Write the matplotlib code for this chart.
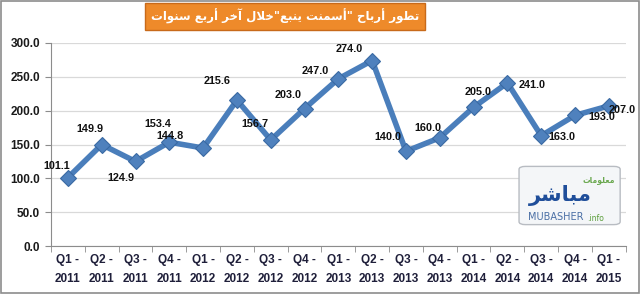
import matplotlib
matplotlib.use("Agg")
import matplotlib.pyplot as plt
from matplotlib.patches import FancyBboxPatch

# data
quarters = ["Q1 -\n2011", "Q2 -\n2011", "Q3 -\n2011", "Q4 -\n2011",
            "Q1 -\n2012", "Q2 -\n2012", "Q3 -\n2012", "Q4 -\n2012",
            "Q1 -\n2013", "Q2 -\n2013", "Q3 -\n2013", "Q4 -\n2013",
            "Q1 -\n2014", "Q2 -\n2014", "Q3 -\n2014", "Q4 -\n2014",
            "Q1 -\n2015"]
profits = [101.1, 149.9, 124.9, 153.4, 144.8, 215.6, 156.7, 203.0,
           247.0, 274.0, 140.0, 160.0, 205.0, 241.0, 163.0, 193.0, 207.0]
y_ticks = [0, 50, 100, 150, 200, 250, 300]
title = 'تطور أرباح "أسمنت ينبع"خلال آخر أربع سنوات'

# label offsets in pixels (where Excel put them)
label_off = [(-11, 12), (-12, 16), (-15, -17), (-11, 18), (-33, 12), (-20, 19),
             (-16, 16), (-16, 14), (-23, 8), (-23, 12), (-18, 14), (-12, 10),
             (5, 15), (25, -2), (21, -1), (27, -2), (13, -4)]


# tiny arabic shaper: presentation forms + reverse for display
FORMS = {
    'ا': (0xFE8D, 0xFE8E, None, None), 'أ': (0xFE83, 0xFE84, None, None),
    'آ': (0xFE81, 0xFE82, None, None), 'ر': (0xFEAD, 0xFEAE, None, None),
    'و': (0xFEED, 0xFEEE, None, None),
    'ب': (0xFE8F, 0xFE90, 0xFE91, 0xFE92), 'ت': (0xFE95, 0xFE96, 0xFE97, 0xFE98),
    'ح': (0xFEA1, 0xFEA2, 0xFEA3, 0xFEA4), 'خ': (0xFEA5, 0xFEA6, 0xFEA7, 0xFEA8),
    'س': (0xFEB1, 0xFEB2, 0xFEB3, 0xFEB4), 'ش': (0xFEB5, 0xFEB6, 0xFEB7, 0xFEB8),
    'ط': (0xFEC1, 0xFEC2, 0xFEC3, 0xFEC4), 'ع': (0xFEC9, 0xFECA, 0xFECB, 0xFECC),
    'ل': (0xFEDD, 0xFEDE, 0xFEDF, 0xFEE0), 'م': (0xFEE1, 0xFEE2, 0xFEE3, 0xFEE4),
    'ن': (0xFEE5, 0xFEE6, 0xFEE7, 0xFEE8), 'ي': (0xFEF1, 0xFEF2, 0xFEF3, 0xFEF4),
}
LAM_ALEF = {'ا': (0xFEFB, 0xFEFC), 'أ': (0xFEF7, 0xFEF8), 'آ': (0xFEF5, 0xFEF6)}


def shape(s):
    out = []
    i = 0
    while i < len(s):
        c = s[i]
        if c not in FORMS:
            out.append(c)
            i += 1
            continue
        prev = s[i - 1] if i > 0 else ''
        joins_prev = prev in FORMS and FORMS[prev][2] is not None
        if c == 'ل' and i + 1 < len(s) and s[i + 1] in LAM_ALEF:
            iso, fin = LAM_ALEF[s[i + 1]]
            out.append(chr(fin if joins_prev else iso))
            i += 2
            continue
        nxt = s[i + 1] if i + 1 < len(s) else ''
        joins_next = FORMS[c][2] is not None and nxt in FORMS
        f = FORMS[c]
        if joins_prev and joins_next:
            code = f[3]
        elif joins_prev:
            code = f[1]
        elif joins_next:
            code = f[2]
        else:
            code = f[0]
        out.append(chr(code))
        i += 1
    return ''.join(out[::-1])


plt.rcParams['font.family'] = ['Liberation Sans', 'DejaVu Sans']

fig = plt.figure(figsize=(6.4, 2.94), dpi=100)
fig.patch.set_facecolor('white')
fig.patches.append(plt.Rectangle((0.002, 0.003), 0.996, 0.994, transform=fig.transFigure,
                                 fill=False, edgecolor='#8c8c8c', linewidth=1.2))

ax = fig.add_axes([0.0797, 0.163, 0.898, 0.691])
x = list(range(len(profits)))
ax.plot(x, profits, color='#4a7ebb', linewidth=4, marker='D', markersize=8,
        markerfacecolor='#4f81bd', markeredgecolor='#3a6aa3', markeredgewidth=0.8,
        solid_joinstyle='miter', zorder=3)

for xi, v, (dx, dy) in zip(x, profits, label_off):
    ax.annotate(f"{v:.1f}", (xi, v), xytext=(dx, dy), textcoords='offset pixels',
                ha='center', va='center', fontsize=7.8, fontweight='bold',
                color='#111111', zorder=4)

ax.set_xlim(-0.5, len(profits) - 0.5)
ax.set_ylim(0, 300)
ax.set_yticks(y_ticks)
ax.set_yticklabels([f"{t:.1f}" for t in y_ticks], fontsize=8.5, fontweight='bold',
                   color='#1a1a1a')
ax.set_xticks(x)
ax.set_xticklabels(quarters, fontsize=8.5, fontweight='bold', color='#1f1f3a',
                   linespacing=1.75)
ax.tick_params(axis='x', length=0, pad=6)
ax.set_xticks([i - 0.5 for i in range(len(profits) + 1)], minor=True)
ax.tick_params(axis='x', which='minor', length=4, color='#8c8c8c', direction='out')
ax.tick_params(axis='y', length=4, color='#8c8c8c', pad=4)

ax.grid(axis='y', color='#d9d9d9', linewidth=0.9)
ax.set_axisbelow(True)
for side in ['top', 'right']:
    ax.spines[side].set_visible(False)
for side in ['left', 'bottom']:
    ax.spines[side].set_color('#8c8c8c')

# title box
fig.text(0.445, 0.944, shape(title), ha='center', va='center', fontsize=8.5,
         fontweight='bold', color='white', family='DejaVu Sans',
         bbox=dict(boxstyle='square,pad=0.5', facecolor='#ee8a2a',
                   edgecolor='#c86a1a', linewidth=1))

# logo
logo = FancyBboxPatch((0.815, 0.24), 0.15, 0.19, boxstyle='round,pad=0.004,rounding_size=0.01',
                      transform=fig.transFigure, facecolor='#f4f6f8',
                      edgecolor='#b8bcc2', linewidth=1, zorder=5)
fig.patches.append(logo)
fig.text(0.935, 0.39, shape('معلومات'), ha='center', va='center', fontsize=5.5,
         color='#6aa84f', family='DejaVu Sans', fontweight='bold', zorder=6)
fig.text(0.875, 0.335, shape('مباشر'), ha='center', va='center', fontsize=15,
         color='#1f4e9a', family='DejaVu Sans', fontweight='bold', zorder=6)
fig.text(0.825, 0.262, 'MUBASHER', ha='left', va='center', fontsize=7,
         color='#4a6fa5', family='DejaVu Sans', zorder=6)
fig.text(0.917, 0.256, '.info', ha='left', va='center', fontsize=5.5,
         color='#5a9e3a', family='DejaVu Sans', zorder=6)

fig.savefig('out.png', dpi=100)
